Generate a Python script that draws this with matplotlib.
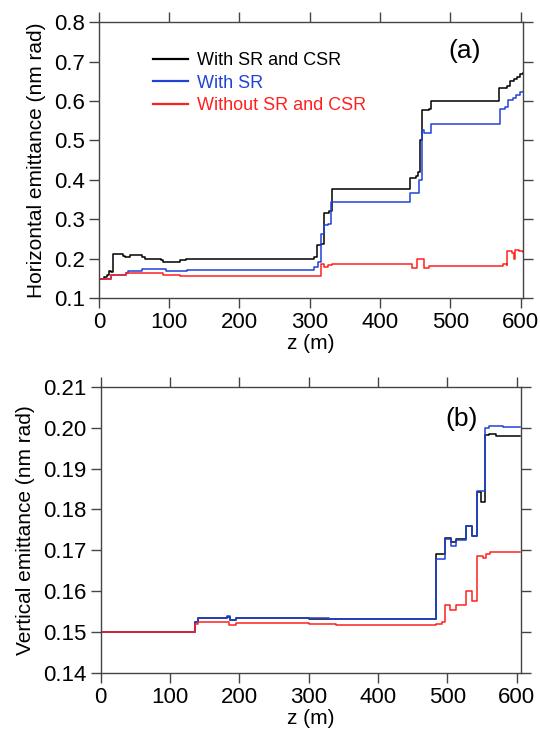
import matplotlib
matplotlib.use('Agg')
import matplotlib.pyplot as plt

plt.rcParams['font.family'] = ['Liberation Sans', 'DejaVu Sans']

labels = ['With SR and CSR', 'With SR', 'Without SR and CSR']
colors = ['#000000', '#2043d6', '#ff2020']

# (a) horizontal emittance, step breakpoints (z in m, value in nm rad)
zh_csr = [0, 8, 11, 14, 17, 20, 34, 37, 45, 61, 65, 88, 91, 116, 124, 306, 310, 316, 320,
          327, 332, 443, 451, 454, 456, 459, 469, 473, 569, 580, 584, 590, 594, 599, 603]
eh_csr = [0.150, 0.153, 0.158, 0.170, 0.166, 0.212, 0.207, 0.204, 0.209, 0.204, 0.199, 0.196,
          0.193, 0.196, 0.199, 0.205, 0.235, 0.238, 0.315, 0.320, 0.376, 0.405, 0.409, 0.420,
          0.500, 0.577, 0.580, 0.601, 0.634, 0.638, 0.651, 0.657, 0.661, 0.668, 0.670]

zh_sr = [0, 17, 39, 41, 62, 95, 125, 306, 311, 316, 320, 326, 330, 443, 455, 460, 463, 472,
         570, 577, 582, 589, 593, 599, 603]
eh_sr = [0.149, 0.158, 0.164, 0.169, 0.173, 0.169, 0.171, 0.180, 0.192, 0.264, 0.285, 0.289,
         0.344, 0.367, 0.400, 0.526, 0.518, 0.543, 0.581, 0.585, 0.603, 0.608, 0.615, 0.622, 0.624]

zh_no = [0, 17, 39, 91, 115, 316, 320, 326, 332, 445, 452, 463, 470, 575, 580, 581, 587, 590,
         592, 598, 603]
eh_no = [0.150, 0.158, 0.163, 0.158, 0.156, 0.188, 0.180, 0.184, 0.186, 0.177, 0.199, 0.177,
         0.182, 0.186, 0.183, 0.221, 0.214, 0.200, 0.222, 0.220, 0.218]

# (b) vertical emittance
zv_csr = [0, 136, 141, 182, 187, 195, 300, 330, 484, 496, 505, 512, 527, 536, 543, 548, 554,
          560, 570, 605]
ev_csr = [0.1500, 0.1525, 0.1533, 0.1537, 0.1529, 0.1533, 0.1532, 0.1531, 0.1690, 0.1729,
          0.1719, 0.1727, 0.1760, 0.1735, 0.1842, 0.1819, 0.1982, 0.1984, 0.1980, 0.1980]

zv_sr = [0, 136, 141, 182, 187, 195, 300, 330, 483, 496, 505, 512, 527, 536, 543, 554, 560,
         580, 605]
ev_sr = [0.1500, 0.1525, 0.1534, 0.1538, 0.1530, 0.1534, 0.1535, 0.1531, 0.1679, 0.1727,
         0.1711, 0.1725, 0.1760, 0.1735, 0.1846, 0.2000, 0.2004, 0.2002, 0.2001]

zv_no = [0, 136, 140, 185, 195, 300, 340, 483, 492, 496, 504, 512, 527, 536, 543, 551, 556,
         561, 605]
ev_no = [0.1500, 0.1520, 0.1525, 0.1517, 0.1521, 0.1519, 0.1517, 0.1519, 0.1523, 0.1567,
         0.1553, 0.1567, 0.1601, 0.1575, 0.1686, 0.1682, 0.1690, 0.1696, 0.1695]


def style_axes(ax):
    for s in ax.spines.values():
        s.set_color('#444444')
        s.set_linewidth(1.0)
    ax.tick_params(direction='out', length=7, width=1.0, color='#444444',
                   top=True, right=True, labelsize=16, pad=3)
    ax.set_xticks(range(0, 601, 100))
    ax.set_xlabel('z (m)', fontsize=15, labelpad=1)


fig = plt.figure(figsize=(5.4, 7.4), dpi=100)

ax1 = fig.add_axes([0.183, 0.597, 0.786, 0.373])
ax1.plot(zh_csr, eh_csr, drawstyle='steps-post', color=colors[0], lw=1.1, label=labels[0])
ax1.plot(zh_sr, eh_sr, drawstyle='steps-post', color=colors[1], lw=1.1, label=labels[1])
ax1.plot(zh_no, eh_no, drawstyle='steps-post', color=colors[2], lw=1.1, label=labels[2])
ax1.set_xlim(0, 603.5)
ax1.set_ylim(0.1, 0.8)
ax1.set_yticks([0.1, 0.2, 0.3, 0.4, 0.5, 0.6, 0.7, 0.8])
ax1.set_ylabel('Horizontal emittance (nm rad)', fontsize=15, labelpad=6)
style_axes(ax1)
leg = ax1.legend(loc='upper left', bbox_to_anchor=(0.09, 0.95), frameon=False, fontsize=13,
                 handlelength=1.9, handletextpad=0.5, labelspacing=0.3, labelcolor='linecolor')
for h in leg.get_lines():
    h.set_linewidth(1.6)
ax1.text(0.863, 0.895, '(a)', transform=ax1.transAxes, fontsize=19, ha='center', va='center')

ax2 = fig.add_axes([0.1865, 0.091, 0.778, 0.386])
ax2.plot(zv_csr, ev_csr, drawstyle='steps-post', color=colors[0], lw=1.1)
ax2.plot(zv_sr, ev_sr, drawstyle='steps-post', color=colors[1], lw=1.1)
ax2.plot(zv_no, ev_no, drawstyle='steps-post', color=colors[2], lw=1.1)
ax2.set_xlim(0, 606)
ax2.set_ylim(0.14, 0.21)
ax2.set_yticks([0.14, 0.15, 0.16, 0.17, 0.18, 0.19, 0.20, 0.21])
ax2.set_yticklabels(['0.14', '0.15', '0.16', '0.17', '0.18', '0.19', '0.20', '0.21'])
ax2.set_ylabel('Vertical emittance (nm rad)', fontsize=15, labelpad=6)
style_axes(ax2)
ax2.text(0.86, 0.888, '(b)', transform=ax2.transAxes, fontsize=19, ha='center', va='center')

fig.savefig('out.png', dpi=100)
